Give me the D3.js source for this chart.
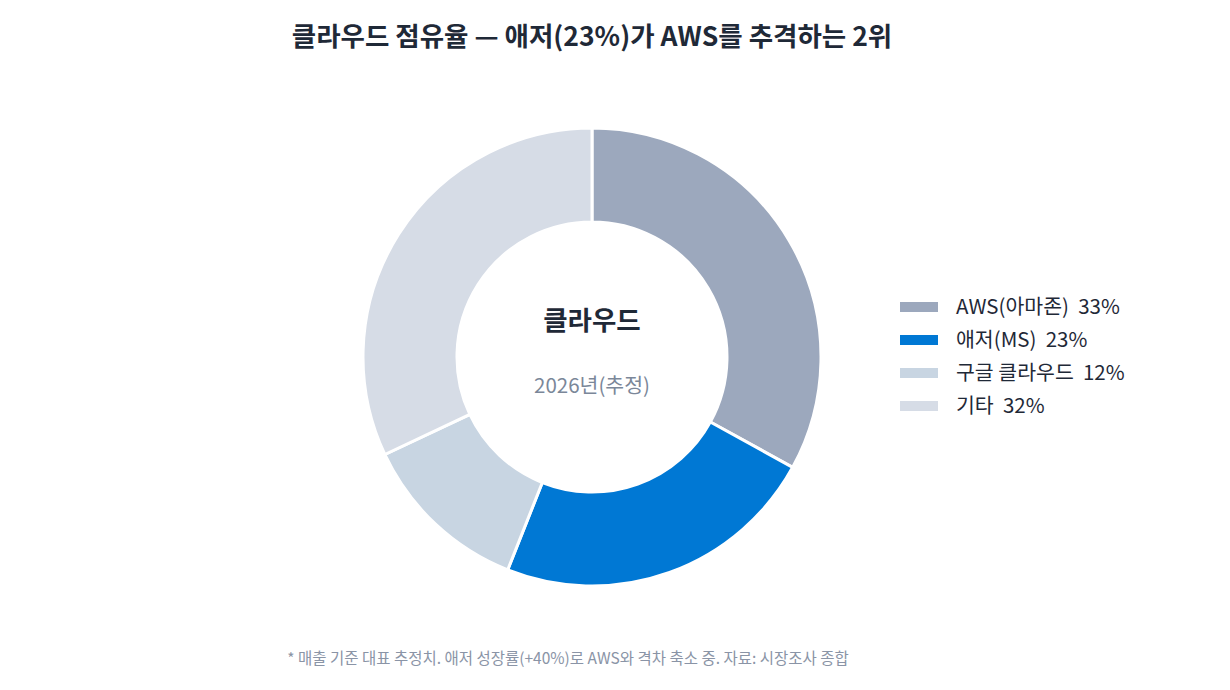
<!DOCTYPE html>
<html><head><meta charset="utf-8">
<script src="https://cdn.jsdelivr.net/npm/d3@7"></script>
<style>
html,body{margin:0;padding:0;background:#fff;}
svg{display:block;font-family:"Noto Sans CJK KR","Noto Sans",sans-serif;}
</style></head>
<body>
<svg id="chart" width="1230" height="690"></svg>
<script>
const categories = ["AWS(아마존)", "애저(MS)", "구글 클라우드", "기타"];
const values = [33, 23, 12, 32];
const colors = ["#9ca8bd", "#0078d4", "#c8d5e2", "#d6dce6"];
const titleText = "클라우드 점유율 — 애저(23%)가 AWS를 추격하는 2위";
const centerTitle = "클라우드";
const centerSub = "2026년(추정)";
const footnote = "* 매출 기준 대표 추정치. 애저 성장률(+40%)로 AWS와 격차 축소 중. 자료: 시장조사 종합";

const svg = d3.select("#chart");
const cx = 592, cy = 357, rOuter = 229, rInner = 135;

svg.append("text").attr("x", 592).attr("y", 46).attr("text-anchor", "middle")
  .attr("font-size", 26.5).attr("font-weight", 700).attr("fill", "#1f2937").text(titleText);

const pie = d3.pie().sort(null).value(d => d)(values);
const arc = d3.arc().innerRadius(rInner).outerRadius(rOuter);
const g = svg.append("g").attr("transform", `translate(${cx},${cy})`);
g.selectAll("path").data(pie).join("path")
  .attr("d", arc).attr("fill", (d, i) => colors[i])
  .attr("stroke", "#fff").attr("stroke-width", 3).attr("stroke-linejoin", "miter");

g.append("text").attr("y", -27).attr("text-anchor", "middle").attr("font-size", 26.5)
  .attr("font-weight", 700).attr("fill", "#1f2937").text(centerTitle);
g.append("text").attr("y", 36).attr("text-anchor", "middle").attr("font-size", 20.5)
  .attr("fill", "#7b8799").text(centerSub);

const leg = svg.append("g").attr("transform", "translate(900,307)");
const rows = leg.selectAll("g").data(categories).join("g")
  .attr("transform", (d, i) => `translate(0,${i * 33})`);
rows.append("rect").attr("x", 0).attr("y", -5).attr("width", 38).attr("height", 10)
  .attr("fill", (d, i) => colors[i]);
rows.append("text").attr("x", 56).attr("y", 7).attr("font-size", 20.5).attr("fill", "#1f2937")
  .text((d, i) => `${d}  ${values[i]}%`).attr("xml:space", "preserve").style("white-space", "pre");

svg.append("text").attr("x", 568).attr("y", 664).attr("text-anchor", "middle")
  .attr("font-size", 15.5).attr("fill", "#8a94a6").text(footnote);
</script>
</body></html>
